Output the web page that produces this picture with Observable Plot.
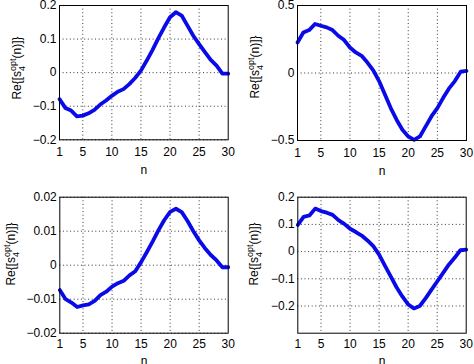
<!DOCTYPE html>
<html><head><meta charset="utf-8">
<script src="https://cdn.jsdelivr.net/npm/d3@7"></script>
<script src="https://cdn.jsdelivr.net/npm/@observablehq/plot@0.6"></script>
<style>
body{margin:0;background:#fff;}
#c{position:relative;width:474px;height:364px;overflow:hidden;background:#fff;}
.p{position:absolute;}
</style>
</head><body><div id="c"></div>
<script>
const nValues = [1,2,3,4,5,6,7,8,9,10,11,12,13,14,15,16,17,18,19,20,21,22,23,24,25,26,27,28,29,30];
const xTicks = [1,5,10,15,20,25,30];
const xGrid = [5,10,15,20,25];

// top-left
const reTopLeft = [-0.079,-0.105,-0.113,-0.130,-0.128,-0.121,-0.111,-0.095,-0.083,-0.069,-0.057,-0.049,-0.034,-0.016,0.006,0.036,0.068,0.103,0.135,0.165,0.180,0.170,0.140,0.110,0.085,0.061,0.038,0.021,-0.003,-0.003];
// top-right
const reTopRight = [0.226,0.300,0.318,0.363,0.350,0.338,0.318,0.276,0.244,0.189,0.152,0.127,0.077,0.020,-0.060,-0.160,-0.260,-0.346,-0.420,-0.470,-0.495,-0.470,-0.395,-0.320,-0.260,-0.184,-0.114,-0.060,0.010,0.015];
// bottom-left
const reBottomLeft = [-0.0073,-0.0100,-0.0110,-0.0123,-0.0118,-0.0115,-0.0105,-0.0088,-0.0078,-0.0063,-0.0053,-0.0046,-0.0030,-0.0018,0.0009,0.0039,0.0070,0.0103,0.0133,0.0157,0.0166,0.0156,0.0130,0.0100,0.0073,0.0050,0.0030,0.0014,-0.0006,-0.0006];
// bottom-right
const reBottomRight = [0.098,0.128,0.133,0.158,0.149,0.143,0.135,0.116,0.102,0.084,0.072,0.059,0.041,0.020,-0.011,-0.052,-0.091,-0.131,-0.165,-0.194,-0.209,-0.200,-0.172,-0.141,-0.110,-0.079,-0.048,-0.023,0.005,0.007];

const yTicksTL = [-0.2,-0.1,0,0.1,0.2];
const yTicksTR = [-0.5,0,0.5];
const yTicksBL = [-0.02,-0.01,0,0.01,0.02];
const yTicksBR = [-0.2,-0.1,0,0.1,0.2];

const panels = [
  {vals: reTopLeft, domain: [-0.2,0.2], yTicks: yTicksTL, left: 0, top: 0, mt: 5, mb: 42.7, ml: 59, mr: 9.3, lx: 17, ly: 68, tp: 8, lo: 34},
  {vals: reTopRight, domain: [-0.5,0.5], yTicks: yTicksTR, left: 237, top: 0, mt: 5, mb: 42, ml: 60, mr: 8, lx: 18, ly: 67, tp: 8, lo: 34},
  {vals: reBottomLeft, domain: [-0.02,0.02], yTicks: yTicksBL, left: 0, top: 182, mt: 14.7, mb: 31.3, ml: 59.3, mr: 9.3, lx: 11, ly: 72, tp: 6, lo: 32},
  {vals: reBottomRight, domain: [-0.3,0.2], yTicks: yTicksBR, left: 237, top: 182, mt: 14.7, mb: 31.3, ml: 60.3, mr: 8.3, lx: 17, ly: 72, tp: 6, lo: 32}
];

const font = "'Liberation Sans', Arial, Helvetica, sans-serif";
const lineColor = "#0a0ae8";
const container = document.getElementById("c");
const fmt = d => String(d).replace("-", "\u2212");

for (const p of panels) {
  const data = nValues.map((n, i) => ({n, v: p.vals[i]}));
  const chart = Plot.plot({
    width: 237, height: 182,
    marginTop: p.mt, marginBottom: p.mb, marginLeft: p.ml, marginRight: p.mr,
    style: {fontSize: "12px", fontFamily: font, color: "black", background: "white", overflow: "visible"},
    x: {domain: [1, 30]},
    y: {domain: p.domain},
    marks: [
      Plot.gridX(xGrid, {stroke: "black", strokeOpacity: 1, strokeWidth: 0.8, strokeDasharray: "1,2.6"}),
      Plot.gridY(p.yTicks, {stroke: "black", strokeOpacity: 1, strokeWidth: 0.8, strokeDasharray: "1,2.6"}),
      Plot.line(data, {x: "n", y: "v", stroke: lineColor, strokeWidth: 3.8}),
      Plot.frame({stroke: "black", strokeWidth: 1}),
      Plot.axisX(xTicks, {tickSize: 0, tickPadding: p.tp, tickFormat: fmt, label: "n", labelAnchor: "center", labelArrow: "none", labelOffset: p.lo, fontSize: 12}),
      Plot.axisY(p.yTicks, {tickSize: 0, tickPadding: 3, tickFormat: fmt, label: null, fontSize: 12})
    ]
  });
  const div = document.createElement("div");
  div.className = "p";
  div.style.left = p.left + "px";
  div.style.top = p.top + "px";
  div.appendChild(chart);
  container.appendChild(div);

  const svg = d3.select(chart);
  const t = svg.append("text")
    .attr("transform", `translate(${p.lx},${p.ly}) rotate(-90)`)
    .attr("text-anchor", "middle")
    .attr("dy", "0.35em")
    .attr("font-size", 12)
    .attr("font-family", font)
    .attr("fill", "black");
  t.append("tspan").text("Re{[s");
  const sup = t.append("tspan").attr("font-size", 9).attr("dy", -5).text("opt");
  const supW = sup.node().getComputedTextLength();
  const sub = t.append("tspan").attr("font-size", 9).attr("dx", -supW).attr("dy", 9).text("4");
  const subW = sub.node().getComputedTextLength();
  t.append("tspan").attr("dx", supW - subW).attr("dy", -4).text("(n)]}");
}
</script>
</body></html>
